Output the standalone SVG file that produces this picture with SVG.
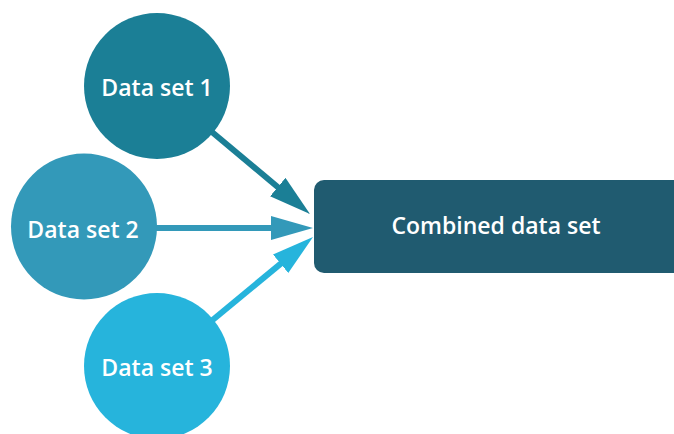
<svg xmlns="http://www.w3.org/2000/svg" width="674" height="434" viewBox="0 0 674 434">
  <style>
    .lbl { font-family: "Open Sans", "Noto Sans", "Liberation Sans", sans-serif; font-weight: 600; font-size: 23px; fill: #ffffff; text-anchor: middle; }
    .conn { stroke-width: 6; fill: none; }
  </style>
  <defs>
    <marker id="ah1" viewBox="0 0 7 4" refX="0.17" refY="2" markerWidth="7" markerHeight="4" orient="auto" markerUnits="strokeWidth"><path d="M0,0 L7,2 L0,4 z" fill="#1b7f96"/></marker>
    <marker id="ah2" viewBox="0 0 7 4" refX="0.17" refY="2" markerWidth="7" markerHeight="4" orient="auto" markerUnits="strokeWidth"><path d="M0,0 L7,2 L0,4 z" fill="#3399b9"/></marker>
    <marker id="ah3" viewBox="0 0 7 4" refX="0.17" refY="2" markerWidth="7" markerHeight="4" orient="auto" markerUnits="strokeWidth"><path d="M0,0 L7,2 L0,4 z" fill="#26b4dc"/></marker>
  </defs>
  <rect width="674" height="434" fill="#ffffff"/>
  <g id="connectors">
    <line class="conn" x1="157" y1="86" x2="278.55" y2="187.7" stroke="#1b7f96" marker-end="url(#ah1)"/>
    <line class="conn" x1="84" y1="228" x2="272" y2="228" stroke="#3399b9" marker-end="url(#ah2)"/>
    <line class="conn" x1="157" y1="366" x2="281.4" y2="263.1" stroke="#26b4dc" marker-end="url(#ah3)"/>
  </g>
  <g id="ds1">
    <circle cx="157" cy="86" r="73" fill="#1b7f96"/>
    <text class="lbl" x="157" y="96">Data set 1</text>
  </g>
  <g id="ds2">
    <circle cx="84" cy="226.5" r="73" fill="#3399b9"/>
    <text class="lbl" x="83" y="238">Data set 2</text>
  </g>
  <g id="ds3">
    <circle cx="157" cy="366" r="73" fill="#26b4dc"/>
    <text class="lbl" x="157" y="376">Data set 3</text>
  </g>
  <g id="combined">
    <rect x="314" y="180" width="372" height="93" rx="10" fill="#205b70"/>
    <text class="lbl" x="496" y="234">Combined data set</text>
  </g>
</svg>
